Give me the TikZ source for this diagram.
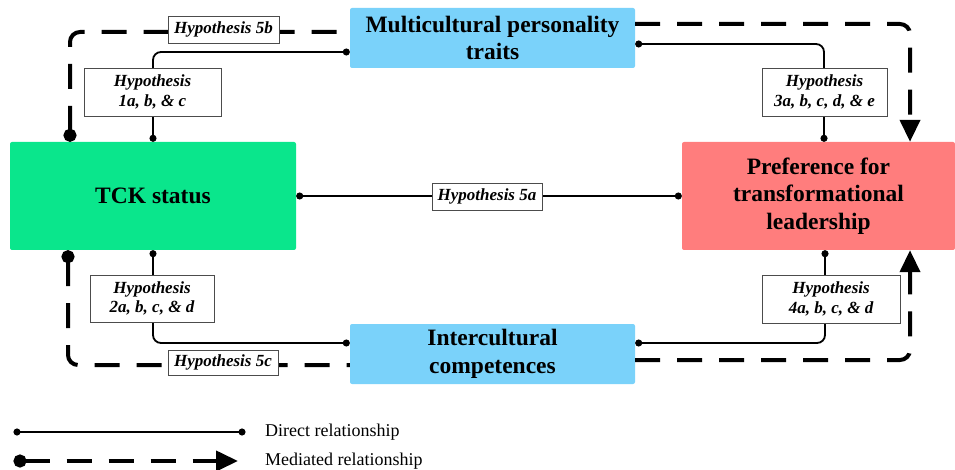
\documentclass[tikz,border=0pt]{standalone}
\usepackage{fontspec}
\setmainfont{Liberation Serif}
\usetikzlibrary{arrows.meta,calc}
\definecolor{tckgreen}{RGB}{10,230,140}
\definecolor{boxblue}{RGB}{122,210,250}
\definecolor{boxpink}{RGB}{255,125,125}
\begin{document}
\begin{tikzpicture}[x=1pt,y=-1pt,
 mainbox/.style={rectangle, rounded corners=2pt, align=center, font=\fontsize{23.5}{27.5}\selectfont\bfseries, inner sep=0pt},
 hyp/.style={draw=black!70, fill=white, line width=0.8pt, align=center, font=\fontsize{17}{19.5}\selectfont\bfseries\itshape, inner sep=0pt},
 direct/.style={line width=1.8pt, {Circle[length=7pt]}-{Circle[length=7pt]}, rounded corners=8pt},
 med/.style={line width=4pt, dash pattern=on 25pt off 17pt, rounded corners=10pt},
 medstart/.style={{Circle[length=13pt]}-},
 medend/.style={-{Triangle[length=22pt,width=20pt]}},
 medboth/.style={{Circle[length=13pt]}-{Triangle[length=22pt,width=20pt]}},
 legtext/.style={anchor=west, inner sep=0pt, font=\fontsize{18}{20}\selectfont},
]
\useasboundingbox (0,0) rectangle (955,470);

% main boxes
\node[mainbox, fill=tckgreen, minimum width=286, minimum height=108] (tck) at (153,196) {TCK status};
\node[mainbox, fill=boxblue, minimum width=285, minimum height=60] (multi) at (492.5,38) {Multicultural personality\\traits};
\node[mainbox, fill=boxpink, minimum width=273, minimum height=108] (pref) at (818.5,196) {Preference for\\transformational\\leadership};
\node[mainbox, fill=boxblue, minimum width=285, minimum height=60] (inter) at (492.5,354) {Intercultural\\competences};

% direct relationships
\draw[direct] (multi.west |- 0,52) -- (153,52) -- (tck.north -| 153,0);
\draw[direct] (multi.east |- 0,44) -- (824,44) -- (pref.north -| 824,0);
\draw[direct] (tck.south -| 153,0) -- (153,343) -- (inter.west |- 0,343);
\draw[direct] (pref.south -| 825,0) -- (825,343) -- (inter.east |- 0,343);
\draw[direct] (tck.east) -- (pref.west);

% mediated relationships
\draw[med, medstart] (tck.north -| 70,0) -- (70,32) -- (multi.west |- 0,32);
\draw[med, medend] (multi.east |- 0,24) -- (910,24) -- (pref.north -| 910,0);
\draw[med, medstart] (tck.south -| 68,0) -- (68,365) -- (inter.west |- 0,365);
\draw[med, medend] (inter.east |- 0,360) -- (910,360) -- (pref.south -| 910,0);

% hypothesis labels
\node[hyp, minimum width=137, minimum height=48] (h1) at (152.5,92) {Hypothesis\\1a, b, \& c};
\node[hyp, minimum width=125, minimum height=48] (h3) at (824.5,92) {Hypothesis\\3a, b, c, d, \& e};
\node[hyp, minimum width=124, minimum height=47] (h2) at (152,298.5) {Hypothesis\\2a, b, c, \& d};
\node[hyp, minimum width=138, minimum height=48] (h4) at (831,299) {Hypothesis\\4a, b, c, \& d};
\node[hyp, minimum width=110, minimum height=27] (h5a) at (487,196.5) {Hypothesis 5a};
\node[hyp, minimum width=111, minimum height=27] (h5b) at (223.5,29.5) {Hypothesis 5b};
\node[hyp, minimum width=110, minimum height=25] (h5c) at (223,362.5) {Hypothesis 5c};

% legend
\coordinate (d1) at (13.5,432);
\coordinate (d2) at (245.5,432);
\draw[direct] (d1) -- (d2);
\node[legtext] (ldir) at (265,432) {Direct relationship};
\coordinate (m1) at (13.5,461);
\coordinate (m2) at (238,461);
\draw[med, medboth] (m1) -- (m2);
\node[legtext] (lmed) at (265,461) {Mediated relationship};
\end{tikzpicture}
\end{document}
